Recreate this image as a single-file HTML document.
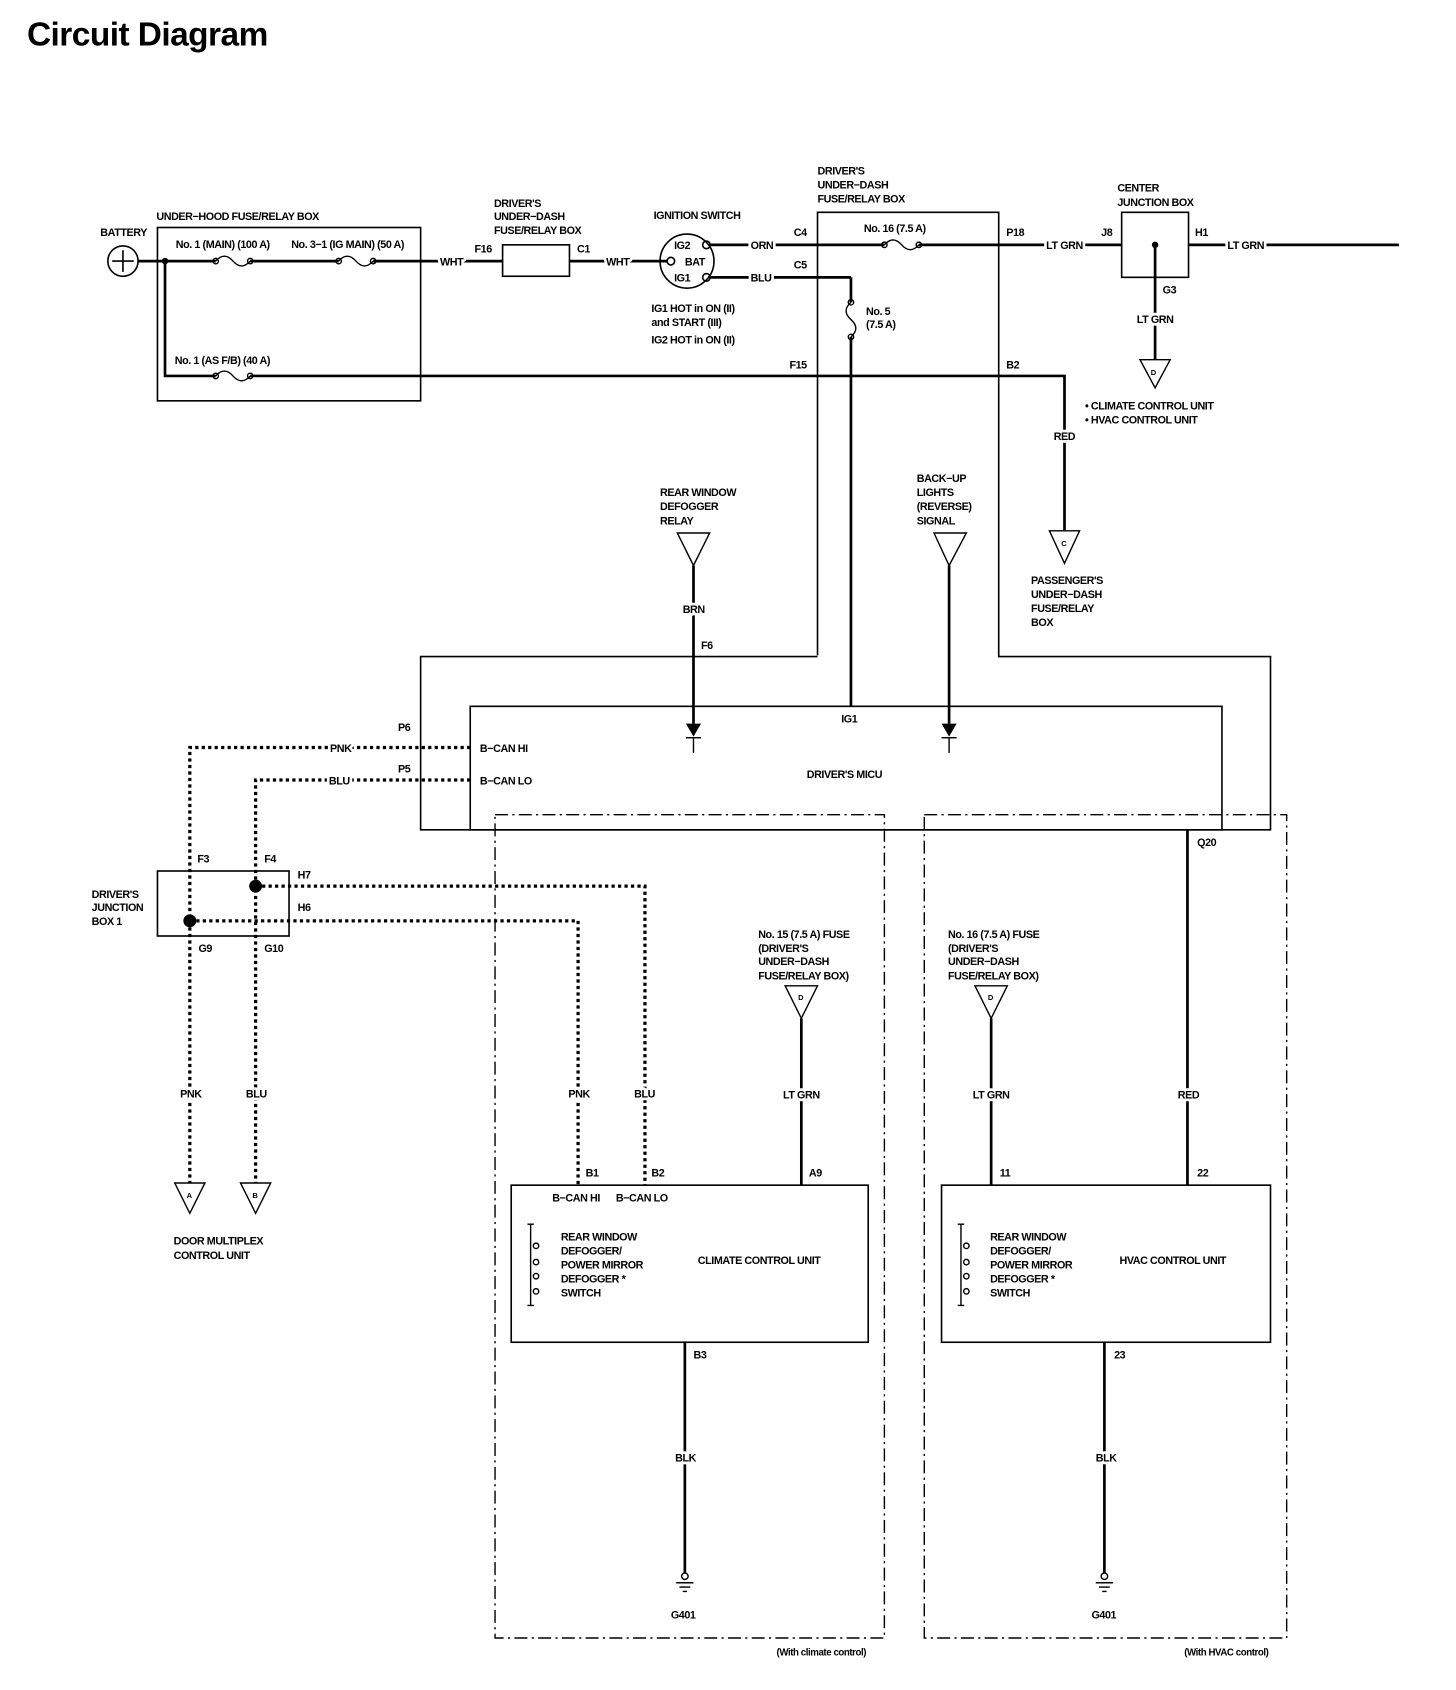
<!DOCTYPE html>
<html><head><meta charset="utf-8"><style>
html,body{margin:0;padding:0;background:#fff;}
svg{display:block;}
text{font-family:"Liberation Sans",sans-serif;font-weight:bold;font-size:10px;fill:#000;letter-spacing:-0.4px;}
.t{font-size:31px;letter-spacing:-0.5px;}
.w{stroke:#fff;stroke-width:5px;paint-order:stroke;stroke-linejoin:round;}
</style></head><body>
<svg width="1456" height="1690" viewBox="0 0 1350 1560" preserveAspectRatio="none" xmlns="http://www.w3.org/2000/svg">
<text x="25" y="42" class="t">Circuit Diagram</text>

<g fill="none" stroke="#000" stroke-width="1.5">
<circle cx="114" cy="241" r="14"/>
<line x1="104" y1="241" x2="124" y2="241"/><line x1="114" y1="231" x2="114" y2="251"/>
<rect x="146" y="210" width="244" height="160"/>
<rect x="466" y="226" width="62" height="29"/>
<circle cx="637" cy="241" r="25"/>
<circle cx="655" cy="226" r="3.5"/><circle cx="622" cy="241" r="3.5"/><circle cx="655" cy="256" r="3.5"/>
<path d="M758 605 V196 H926 V606 H1178 V766 H390 V606 H758"/>
<rect x="436" y="652" width="697" height="114"/>
<rect x="1040" y="196" width="62" height="60"/>
<rect x="146" y="804" width="122" height="60"/>
<rect x="474" y="1094" width="331" height="145"/>
<rect x="873" y="1094" width="305" height="145"/>
</g>

<g fill="none" stroke="#000" stroke-width="2.5">
<line x1="128" y1="241" x2="200" y2="241"/>
<line x1="232" y1="241" x2="314" y2="241"/>
<line x1="346" y1="241" x2="466" y2="241"/>
<line x1="528" y1="241" x2="619" y2="241"/>
<line x1="659" y1="226" x2="820" y2="226"/>
<line x1="852" y1="226" x2="1040" y2="226"/>
<line x1="1102" y1="226" x2="1297" y2="226"/>
<line x1="1071" y1="226" x2="1071" y2="332"/>
<line x1="659" y1="256" x2="789" y2="256"/>
<line x1="789" y1="256" x2="789" y2="279"/>
<line x1="789" y1="311" x2="789" y2="652"/>
<path d="M153 241 V347 H200 M232 347 H987 V490"/>
<line x1="643" y1="522" x2="643" y2="668"/>
<line x1="880" y1="522" x2="880" y2="668"/>
<line x1="743" y1="940" x2="743" y2="1094"/>
<line x1="919" y1="940" x2="919" y2="1094"/>
<line x1="1101" y1="766" x2="1101" y2="1094"/>
<line x1="635" y1="1239" x2="635" y2="1452"/>
<line x1="1024" y1="1239" x2="1024" y2="1452"/>
</g>
<g fill="none" stroke="#000" stroke-width="1.3">
<path d="M200 241 Q208 232 216 241 Q224 250 232 241"/><circle cx="200" cy="241" r="2.5"/><circle cx="232" cy="241" r="2.5"/>
<path d="M314 241 Q322 232 330 241 Q338 250 346 241"/><circle cx="314" cy="241" r="2.5"/><circle cx="346" cy="241" r="2.5"/>
<path d="M200 347 Q208 338 216 347 Q224 356 232 347"/><circle cx="200" cy="347" r="2.5"/><circle cx="232" cy="347" r="2.5"/>
<path d="M820 226 Q828 217 836 226 Q844 235 852 226"/><circle cx="820" cy="226" r="2.5"/><circle cx="852" cy="226" r="2.5"/>
<path d="M789 279 Q780 287 789 295 Q798 303 789 311"/><circle cx="789" cy="279" r="2.5"/><circle cx="789" cy="311" r="2.5"/>
<path d="M1057 332 H1085 L1071 358 Z"/>
<path d="M973 490 H1001 L987 520 Z"/>
<path d="M628 492 H658 L643 522 Z"/>
<path d="M866 492 H896 L880 522 Z"/>
<path d="M162 1092 H190 L176 1120 Z"/>
<path d="M223 1092 H251 L237 1120 Z"/>
<path d="M728 910 H758 L743 940 Z"/>
<path d="M904 910 H934 L919 940 Z"/>
<line x1="636" y1="681" x2="650" y2="681"/><line x1="643" y1="681" x2="643" y2="695"/>
<line x1="873" y1="681" x2="887" y2="681"/><line x1="880" y1="681" x2="880" y2="695"/>
<circle cx="635" cy="1455" r="3"/><line x1="627" y1="1461" x2="643" y2="1461"/><line x1="630" y1="1465" x2="640" y2="1465"/><line x1="633" y1="1469" x2="637" y2="1469"/>
<circle cx="1024" cy="1455" r="3"/><line x1="1016" y1="1461" x2="1032" y2="1461"/><line x1="1019" y1="1465" x2="1029" y2="1465"/><line x1="1022" y1="1469" x2="1026" y2="1469"/>
<path d="M492 1130 V1205 M489 1130 H495 M489 1205 H495"/>
<circle cx="497" cy="1150" r="2.5"/><circle cx="497" cy="1165" r="2.5"/><circle cx="497" cy="1178" r="2.5"/><circle cx="497" cy="1192" r="2.5"/>
<path d="M891 1130 V1205 M888 1130 H894 M888 1205 H894"/>
<circle cx="896" cy="1150" r="2.5"/><circle cx="896" cy="1165" r="2.5"/><circle cx="896" cy="1178" r="2.5"/><circle cx="896" cy="1192" r="2.5"/>
</g>
<g fill="#000">
<circle cx="153" cy="241" r="3"/><circle cx="1071" cy="226" r="3"/>
<path d="M636 668 H650 L643 680 Z"/><path d="M873 668 H887 L880 680 Z"/>
<circle cx="237" cy="818" r="6"/><circle cx="176" cy="850" r="6"/>
</g>
<g fill="none" stroke="#000" stroke-width="3" stroke-dasharray="3 3">
<path d="M436 690 H176 V1092"/>
<path d="M436 720 H237 V1092"/>
<path d="M237 818 H598 V1094"/>
<path d="M176 850 H536 V1094"/>
</g>
<g fill="none" stroke="#000" stroke-width="1.3" stroke-dasharray="12 4 2 4">
<rect x="459" y="752" width="361" height="760"/>
<rect x="857" y="752" width="336" height="760"/>
</g>

<text x="93" y="218">BATTERY</text>
<text x="145" y="203">UNDER−HOOD FUSE/RELAY BOX</text>
<text x="163" y="229">No. 1 (MAIN) (100 A)</text>
<text x="270" y="229">No. 3−1 (IG MAIN) (50 A)</text>
<text x="162" y="336">No. 1 (AS F/B) (40 A)</text>
<text x="408" y="245" class="w">WHT</text>
<text x="440" y="233">F16</text>
<text x="458" y="191">DRIVER'S</text><text x="458" y="203">UNDER−DASH</text><text x="458" y="216">FUSE/RELAY BOX</text>
<text x="535" y="233">C1</text>
<text x="562" y="245" class="w">WHT</text>
<text x="606" y="202">IGNITION SWITCH</text>
<text x="625" y="230">IG2</text><text x="635" y="245">BAT</text><text x="625" y="260">IG1</text>
<text x="604" y="288">IG1 HOT in ON (II)</text><text x="604" y="301">and START (III)</text><text x="604" y="317">IG2 HOT in ON (II)</text>
<text x="696" y="230" class="w">ORN</text><text x="696" y="260" class="w">BLU</text>
<text x="736" y="218">C4</text><text x="736" y="248">C5</text>
<text x="758" y="161">DRIVER'S</text><text x="758" y="174">UNDER−DASH</text><text x="758" y="187">FUSE/RELAY BOX</text>
<text x="801" y="214">No. 16 (7.5 A)</text>
<text x="803" y="291">No. 5</text><text x="803" y="303">(7.5 A)</text>
<text x="933" y="218">P18</text>
<text x="970" y="230" class="w">LT GRN</text>
<text x="1021" y="218">J8</text>
<text x="1036" y="177">CENTER</text><text x="1036" y="190">JUNCTION BOX</text>
<text x="1108" y="218">H1</text>
<text x="1138" y="230" class="w">LT GRN</text>
<text x="1078" y="271">G3</text>
<text x="1054" y="298" class="w">LT GRN</text>
<text x="1067" y="346" style="font-size:7px">D</text>
<text x="1006" y="378">• CLIMATE CONTROL UNIT</text>
<text x="1006" y="391">• HVAC CONTROL UNIT</text>
<text x="732" y="340">F15</text><text x="933" y="340">B2</text>
<text x="977" y="406" class="w">RED</text>
<text x="984" y="504" style="font-size:7px">C</text>
<text x="956" y="539">PASSENGER'S</text><text x="956" y="552">UNDER−DASH</text><text x="956" y="565">FUSE/RELAY</text><text x="956" y="578">BOX</text>
<text x="612" y="458">REAR WINDOW</text><text x="612" y="471">DEFOGGER</text><text x="612" y="484">RELAY</text>
<text x="633" y="566" class="w">BRN</text><text x="650" y="599">F6</text>
<text x="850" y="445">BACK−UP</text><text x="850" y="458">LIGHTS</text><text x="850" y="471">(REVERSE)</text><text x="850" y="484">SIGNAL</text>
<text x="780" y="667">IG1</text>
<text x="748" y="718">DRIVER'S MICU</text>
<text x="369" y="675">P6</text><text x="306" y="694" class="w">PNK</text><text x="445" y="694">B−CAN HI</text>
<text x="369" y="713">P5</text><text x="305" y="724" class="w">BLU</text><text x="445" y="724">B−CAN LO</text>
<text x="85" y="829">DRIVER'S</text><text x="85" y="841">JUNCTION</text><text x="85" y="854">BOX 1</text>
<text x="183" y="796">F3</text><text x="245" y="796">F4</text>
<text x="276" y="811">H7</text><text x="276" y="841">H6</text>
<text x="184" y="879">G9</text><text x="245" y="879">G10</text>
<text x="167" y="1013" class="w">PNK</text><text x="228" y="1013" class="w">BLU</text>
<text x="173" y="1106" style="font-size:7px">A</text><text x="234" y="1106" style="font-size:7px">B</text>
<text x="161" y="1149">DOOR MULTIPLEX</text><text x="161" y="1162">CONTROL UNIT</text>
<text x="527" y="1013" class="w">PNK</text><text x="588" y="1013" class="w">BLU</text>
<text x="703" y="866">No. 15 (7.5 A) FUSE</text><text x="703" y="879">(DRIVER'S</text><text x="703" y="891">UNDER−DASH</text><text x="703" y="904">FUSE/RELAY BOX)</text>
<text x="740" y="923" style="font-size:7px">D</text>
<text x="726" y="1014" class="w">LT GRN</text>
<text x="543" y="1086">B1</text><text x="604" y="1086">B2</text><text x="750" y="1086">A9</text>
<text x="512" y="1109">B−CAN HI</text><text x="571" y="1109">B−CAN LO</text>
<text x="520" y="1145">REAR WINDOW</text><text x="520" y="1158">DEFOGGER/</text><text x="520" y="1171">POWER MIRROR</text><text x="520" y="1184">DEFOGGER *</text><text x="520" y="1197">SWITCH</text>
<text x="647" y="1167">CLIMATE CONTROL UNIT</text>
<text x="643" y="1254">B3</text><text x="626" y="1349" class="w">BLK</text><text x="622" y="1494">G401</text>
<text x="720" y="1528" style="font-size:9px">(With climate control)</text>
<text x="1110" y="781">Q20</text>
<text x="879" y="866">No. 16 (7.5 A) FUSE</text><text x="879" y="879">(DRIVER'S</text><text x="879" y="891">UNDER−DASH</text><text x="879" y="904">FUSE/RELAY BOX)</text>
<text x="916" y="923" style="font-size:7px">D</text>
<text x="902" y="1014" class="w">LT GRN</text><text x="1092" y="1014" class="w">RED</text>
<text x="927" y="1086">11</text><text x="1110" y="1086">22</text>
<text x="918" y="1145">REAR WINDOW</text><text x="918" y="1158">DEFOGGER/</text><text x="918" y="1171">POWER MIRROR</text><text x="918" y="1184">DEFOGGER *</text><text x="918" y="1197">SWITCH</text>
<text x="1038" y="1167">HVAC CONTROL UNIT</text>
<text x="1033" y="1254">23</text><text x="1016" y="1349" class="w">BLK</text><text x="1012" y="1494">G401</text>
<text x="1098" y="1528" style="font-size:9px">(With HVAC control)</text>
</svg>
</body></html>
